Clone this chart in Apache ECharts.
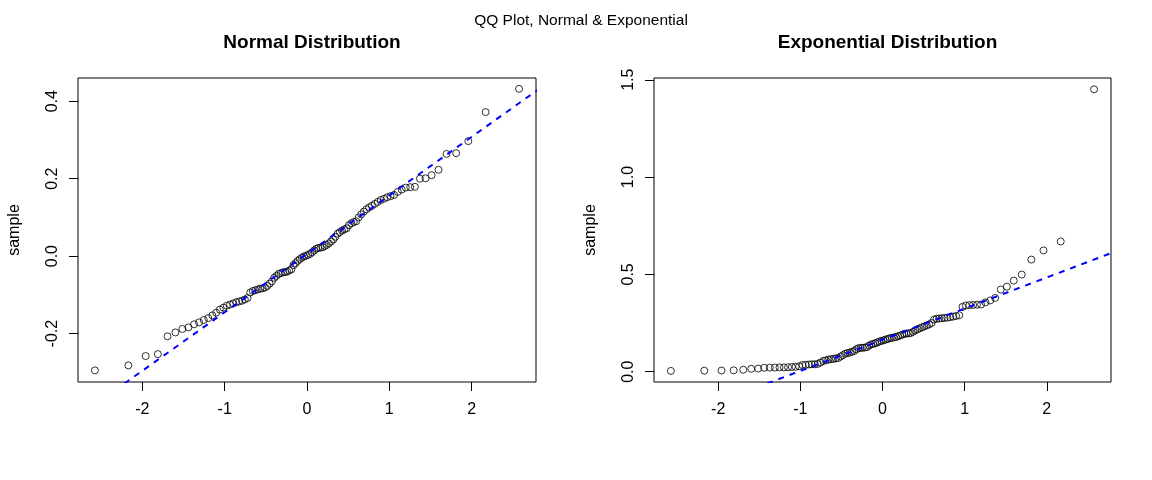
<!DOCTYPE html>
<html>
<head>
<meta charset="utf-8">
<title>QQ Plot, Normal & Exponential</title>
<script src="https://cdn.jsdelivr.net/npm/echarts@6/dist/echarts.min.js"></script>
<style>
  html, body { margin: 0; padding: 0; background: #fff; }
  #main { width: 1152px; height: 480px; }
</style>
</head>
<body>
<div id="main"></div>
<script>
// theoretical normal quantiles, 100 points (same x for both panels)
const theoretical = [
  -2.576, -2.170, -1.960, -1.812, -1.695, -1.598, -1.514, -1.440, -1.372, -1.311,
  -1.254, -1.200, -1.150, -1.103, -1.058, -1.015, -0.974, -0.935, -0.896, -0.860,
  -0.824, -0.789, -0.755, -0.722, -0.690, -0.659, -0.628, -0.598, -0.568, -0.539,
  -0.510, -0.482, -0.454, -0.426, -0.399, -0.372, -0.345, -0.319, -0.292, -0.266,
  -0.240, -0.215, -0.189, -0.164, -0.138, -0.113, -0.088, -0.063, -0.038, -0.013,
  0.013, 0.038, 0.063, 0.088, 0.113, 0.138, 0.164, 0.189, 0.215, 0.240,
  0.266, 0.292, 0.319, 0.345, 0.372, 0.399, 0.426, 0.454, 0.482, 0.510,
  0.539, 0.568, 0.598, 0.628, 0.659, 0.690, 0.722, 0.755, 0.789, 0.824,
  0.860, 0.896, 0.935, 0.974, 1.015, 1.058, 1.103, 1.150, 1.200, 1.254,
  1.311, 1.372, 1.440, 1.514, 1.598, 1.695, 1.812, 1.960, 2.170, 2.576
]

// sorted samples
const normalSample = [
  -0.295, -0.282, -0.258, -0.253, -0.207, -0.197, -0.188, -0.184, -0.176, -0.171,
  -0.165, -0.160, -0.153, -0.146, -0.138, -0.133, -0.128, -0.125, -0.122, -0.119,
  -0.117, -0.115, -0.112, -0.108, -0.094, -0.090, -0.088, -0.086, -0.084, -0.083,
  -0.081, -0.077, -0.071, -0.065, -0.056, -0.051, -0.046, -0.044, -0.042, -0.041,
  -0.040, -0.037, -0.034, -0.023, -0.018, -0.012, -0.008, -0.004, -0.001, 0.001,
  0.003, 0.006, 0.010, 0.015, 0.019, 0.021, 0.022, 0.023, 0.026, 0.029,
  0.033, 0.038, 0.043, 0.050, 0.058, 0.062, 0.066, 0.069, 0.072, 0.080,
  0.085, 0.088, 0.090, 0.100, 0.108, 0.115, 0.121, 0.126, 0.130, 0.135,
  0.140, 0.145, 0.148, 0.152, 0.155, 0.158, 0.166, 0.172, 0.177, 0.178,
  0.179, 0.200, 0.201, 0.209, 0.223, 0.264, 0.266, 0.297, 0.372, 0.432
]

const expSample = [
  0.004, 0.005, 0.006, 0.007, 0.010, 0.015, 0.016, 0.020, 0.021, 0.021,
  0.022, 0.022, 0.023, 0.024, 0.025, 0.028, 0.034, 0.035, 0.037, 0.038,
  0.038, 0.040, 0.047, 0.055, 0.058, 0.062, 0.064, 0.066, 0.068, 0.070,
  0.078, 0.085, 0.092, 0.096, 0.098, 0.103, 0.106, 0.115, 0.121, 0.122,
  0.123, 0.124, 0.126, 0.134, 0.140, 0.143, 0.146, 0.150, 0.155, 0.158,
  0.161, 0.165, 0.168, 0.172, 0.174, 0.176, 0.178, 0.182, 0.186, 0.190,
  0.194, 0.196, 0.197, 0.199, 0.205, 0.212, 0.218, 0.223, 0.228, 0.233,
  0.238, 0.243, 0.250, 0.268, 0.272, 0.273, 0.275, 0.276, 0.278, 0.280,
  0.283, 0.286, 0.290, 0.333, 0.340, 0.342, 0.343, 0.344, 0.345, 0.356,
  0.366, 0.379, 0.422, 0.437, 0.468, 0.499, 0.576, 0.623, 0.669, 1.451
]

// qqline: [intercept, slope]
const normalLine = [0.006, 0.151]
const expLine = [0.164, 0.160]

// axis ticks and limits
const xTicks = [-2, -1, 0, 1, 2]
const xRange = [-2.782, 2.782]
const normalTicks = [-0.2, 0.0, 0.2, 0.4]
const normalRange = [-0.325, 0.460]
const expTicks = [0.0, 0.5, 1.0, 1.5]
const expRange = [-0.053, 1.509]

const FONT = "'Liberation Sans', Arial, sans-serif"

const pairs = (xs, ys) => xs.map((x, i) => [x, ys[i]])
const lineEnds = (ab) => [[-4, ab[0] - 4 * ab[1]], [4, ab[0] + 4 * ab[1]]]

function xAxisFor(gridIndex) {
  return {
    type: 'value', gridIndex,
    min: xRange[0], max: xRange[1],
    axisLine: { show: false, onZero: false },
    splitLine: { show: false },
    axisTick: { show: true, length: 9, customValues: xTicks, lineStyle: { color: '#000', width: 1 } },
    axisLabel: {
      customValues: xTicks, margin: 20, color: '#000',
      fontSize: 16, fontFamily: FONT,
      formatter: v => String(Math.round(v))
    }
  }
}

function yAxisFor(gridIndex, range, ticks) {
  return {
    type: 'value', gridIndex,
    min: range[0], max: range[1],
    name: 'sample', nameLocation: 'middle', nameGap: 55,
    nameTextStyle: { color: '#000', fontSize: 16, fontFamily: FONT },
    axisLine: { show: false, onZero: false },
    splitLine: { show: false },
    axisTick: { show: true, length: 9, customValues: ticks, lineStyle: { color: '#000', width: 1 } },
    axisLabel: {
      customValues: ticks, margin: 17, rotate: 90, color: '#000',
      fontSize: 16, fontFamily: FONT,
      formatter: v => v.toFixed(1)
    }
  }
}

function pointSeries(idx, data) {
  return {
    type: 'scatter', xAxisIndex: idx, yAxisIndex: idx,
    data, symbol: 'circle', symbolSize: 7, z: 2,
    itemStyle: { color: 'rgba(0,0,0,0)', borderColor: '#000', borderWidth: 1 },
    silent: true
  }
}

function lineSeries(idx, ab) {
  return {
    type: 'line', xAxisIndex: idx, yAxisIndex: idx,
    data: lineEnds(ab), showSymbol: false, clip: true, z: 3,
    lineStyle: { color: '#0000ff', width: 2, type: [6, 6] },
    silent: true
  }
}

const chart = echarts.init(document.getElementById('main'))
chart.setOption({
  animation: false,
  backgroundColor: '#fff',
  title: [
    { text: 'QQ Plot, Normal & Exponential', left: 576, top: 8, textAlign: 'center',
      textStyle: { fontSize: 15.5, fontWeight: 'normal', color: '#000', fontFamily: FONT } },
    { text: 'Normal Distribution', left: 307, top: 28, textAlign: 'center',
      textStyle: { fontSize: 19, fontWeight: 'bold', color: '#000', fontFamily: FONT } },
    { text: 'Exponential Distribution', left: 882.5, top: 28, textAlign: 'center',
      textStyle: { fontSize: 19, fontWeight: 'bold', color: '#000', fontFamily: FONT } }
  ],
  grid: [
    { left: 78, top: 78, width: 458, height: 304, show: true, borderColor: '#000', borderWidth: 1, backgroundColor: 'transparent' },
    { left: 654, top: 78, width: 457, height: 304, show: true, borderColor: '#000', borderWidth: 1, backgroundColor: 'transparent' }
  ],
  xAxis: [xAxisFor(0), xAxisFor(1)],
  yAxis: [yAxisFor(0, normalRange, normalTicks), yAxisFor(1, expRange, expTicks)],
  series: [
    pointSeries(0, pairs(theoretical, normalSample)),
    lineSeries(0, normalLine),
    pointSeries(1, pairs(theoretical, expSample)),
    lineSeries(1, expLine)
  ]
})
</script>
</body>
</html>
